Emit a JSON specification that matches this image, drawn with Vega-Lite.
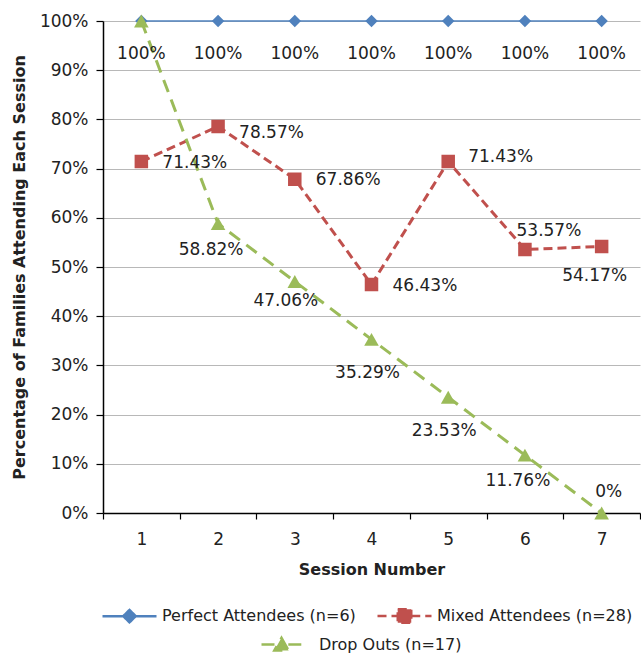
{
  "$schema": "https://vega.github.io/schema/vega-lite/v6.json",
  "width": 537,
  "height": 492,
  "autosize": {"type": "none"},
  "padding": {"left": 103, "top": 21, "right": 1, "bottom": 140},
  "config": {
    "font": "DejaVu Sans",
    "view": {"stroke": null},
    "axis": {"labelColor": "#222222", "titleColor": "#222222", "domainColor": "#000000", "tickColor": "#000000", "domainWidth": 1.5, "tickWidth": 1.2}
  },
  "data": {
    "values": [
      {"series": "Perfect Attendees (n=6)", "session": 1, "value": 1},
      {"series": "Perfect Attendees (n=6)", "session": 2, "value": 1},
      {"series": "Perfect Attendees (n=6)", "session": 3, "value": 1},
      {"series": "Perfect Attendees (n=6)", "session": 4, "value": 1},
      {"series": "Perfect Attendees (n=6)", "session": 5, "value": 1},
      {"series": "Perfect Attendees (n=6)", "session": 6, "value": 1},
      {"series": "Perfect Attendees (n=6)", "session": 7, "value": 1},
      {"series": "Mixed Attendees (n=28)", "session": 1, "value": 0.7143},
      {"series": "Mixed Attendees (n=28)", "session": 2, "value": 0.7857},
      {"series": "Mixed Attendees (n=28)", "session": 3, "value": 0.6786},
      {"series": "Mixed Attendees (n=28)", "session": 4, "value": 0.4643},
      {"series": "Mixed Attendees (n=28)", "session": 5, "value": 0.7143},
      {"series": "Mixed Attendees (n=28)", "session": 6, "value": 0.5357},
      {"series": "Mixed Attendees (n=28)", "session": 7, "value": 0.5417},
      {"series": "Drop Outs (n=17)", "session": 1, "value": 1},
      {"series": "Drop Outs (n=17)", "session": 2, "value": 0.5882},
      {"series": "Drop Outs (n=17)", "session": 3, "value": 0.4706},
      {"series": "Drop Outs (n=17)", "session": 4, "value": 0.3529},
      {"series": "Drop Outs (n=17)", "session": 5, "value": 0.2353},
      {"series": "Drop Outs (n=17)", "session": 6, "value": 0.1176},
      {"series": "Drop Outs (n=17)", "session": 7, "value": 0}
    ]
  },
  "encoding": {
    "x": {
      "field": "session", "type": "ordinal",
      "scale": {"type": "band", "paddingInner": 0, "paddingOuter": 0},
      "title": "Session Number",
      "axis": {"labelAngle": 0, "tickBand": "extent", "tickSize": 6, "grid": false, "labelFontSize": 17, "labelPadding": 12, "titleFontSize": 16, "titleFontWeight": "bold", "titlePadding": 14}
    },
    "y": {
      "field": "value", "type": "quantitative",
      "scale": {"domain": [0, 1], "nice": false},
      "title": "Percentage of Families Attending Each Session",
      "axis": {"format": ".0%", "values": [0, 0.1, 0.2, 0.3, 0.4, 0.5, 0.6, 0.7, 0.8, 0.9, 1], "grid": true, "gridColor": "#b8b8b8", "gridWidth": 1, "tickSize": 7, "labelFontSize": 17, "labelPadding": 8, "titleFontSize": 16, "titleFontWeight": "bold", "titlePadding": 12}
    }
  },
  "layer": [
    {
      "mark": {"type": "line"},
      "encoding": {
        "color": {
          "field": "series", "type": "nominal",
          "scale": {"domain": ["Perfect Attendees (n=6)", "Mixed Attendees (n=28)", "Drop Outs (n=17)"], "range": ["#4f81bd", "#c0504d", "#9bbb59"]},
          "legend": {"values": ["Perfect Attendees (n=6)", "Mixed Attendees (n=28)"], "orient": "none", "legendX": -2, "legendY": 566, "direction": "horizontal", "title": null, "padding": 0, "symbolSize": 2916, "symbolStrokeWidth": 2.5, "labelFontSize": 16, "labelOffset": 4, "labelLimit": 0, "columnPadding": 16, "labelColor": "#222222"}
        },
        "strokeDash": {
          "field": "series", "type": "nominal",
          "scale": {"domain": ["Perfect Attendees (n=6)", "Mixed Attendees (n=28)", "Drop Outs (n=17)"], "range": [[1, 0], [9, 5], [13, 8]]},
          "legend": {"values": ["Perfect Attendees (n=6)", "Mixed Attendees (n=28)"], "orient": "none", "legendX": -2, "legendY": 566, "direction": "horizontal", "title": null, "padding": 0, "symbolSize": 2916, "symbolStrokeWidth": 2.5, "labelFontSize": 16, "labelOffset": 4, "labelLimit": 0, "columnPadding": 16, "labelColor": "#222222"}
        },
        "opacity": {
          "field": "series", "type": "nominal",
          "scale": {"domain": ["Drop Outs (n=17)", "Perfect Attendees (n=6)", "Mixed Attendees (n=28)"], "range": [1, 1, 1]},
          "legend": {
            "values": ["Drop Outs (n=17)"], "orient": "none", "legendX": 157, "legendY": 602, "title": null, "padding": 0,
            "symbolType": "M-1,0H-0.34M0.34,0H1M0,-0.34L0.36,0.3L-0.36,0.3Z",
            "symbolSize": 1600, "symbolStrokeWidth": 2.5, "symbolFillColor": "#9bbb59", "symbolStrokeColor": "#9bbb59", "symbolDash": [13, 8], "symbolOpacity": 1,
            "labelFontSize": 16, "labelOffset": 16, "labelLimit": 0, "labelColor": "#222222"
          }
        },
        "strokeWidth": {"condition": {"test": "datum.series === 'Perfect Attendees (n=6)'", "value": 1.5}, "value": 3}
      }
    },
    {
      "mark": {"type": "point", "filled": true, "size": 2916, "opacity": 1},
      "encoding": {
        "color": {
          "field": "series", "type": "nominal",
          "scale": {"domain": ["Perfect Attendees (n=6)", "Mixed Attendees (n=28)", "Drop Outs (n=17)"], "range": ["#4f81bd", "#c0504d", "#9bbb59"]},
          "legend": {"values": ["Perfect Attendees (n=6)", "Mixed Attendees (n=28)"], "orient": "none", "legendX": -2, "legendY": 566, "direction": "horizontal", "title": null, "padding": 0, "symbolSize": 2916, "symbolStrokeWidth": 2.5, "labelFontSize": 16, "labelOffset": 4, "labelLimit": 0, "columnPadding": 16, "labelColor": "#222222"}
        },
        "shape": {
          "field": "series", "type": "nominal",
          "scale": {"domain": ["Perfect Attendees (n=6)", "Mixed Attendees (n=28)", "Drop Outs (n=17)"], "range": ["M-1,0H-0.2M0.2,0H1M0,-0.23L0.23,0L0,0.23L-0.23,0Z", "M-1,0H-0.25M0.25,0H1M-0.25,-0.25H0.25V0.25H-0.25Z", "M0,-0.24L0.27,0.24L-0.27,0.24Z"]},
          "legend": {"values": ["Perfect Attendees (n=6)", "Mixed Attendees (n=28)"], "orient": "none", "legendX": -2, "legendY": 566, "direction": "horizontal", "title": null, "padding": 0, "symbolSize": 2916, "symbolStrokeWidth": 2.5, "labelFontSize": 16, "labelOffset": 4, "labelLimit": 0, "columnPadding": 16, "labelColor": "#222222"}
        }
      }
    },
    {
      "transform": [{"filter": "datum.series === 'Perfect Attendees (n=6)'"}],
      "mark": {"type": "text", "fontSize": 17, "align": "center", "baseline": "middle", "dy": 33, "color": "#222222"},
      "encoding": {"text": {"field": "value", "type": "quantitative", "format": ".2~%"}}
    },
    {
      "transform": [{"filter": "datum.series === 'Mixed Attendees (n=28)' && indexof([1, 3, 4], datum.session) >= 0"}],
      "mark": {"type": "text", "fontSize": 17, "align": "left", "baseline": "middle", "dx": 21, "dy": 1, "color": "#222222"},
      "encoding": {"text": {"field": "value", "type": "quantitative", "format": ".2~%"}}
    },
    {
      "transform": [{"filter": "datum.series === 'Mixed Attendees (n=28)' && datum.session === 2"}],
      "mark": {"type": "text", "fontSize": 17, "align": "left", "baseline": "middle", "dx": 21, "dy": 7, "color": "#222222"},
      "encoding": {"text": {"field": "value", "type": "quantitative", "format": ".2~%"}}
    },
    {
      "transform": [{"filter": "datum.series === 'Mixed Attendees (n=28)' && datum.session === 5"}],
      "mark": {"type": "text", "fontSize": 17, "align": "left", "baseline": "middle", "dx": 20, "dy": -5, "color": "#222222"},
      "encoding": {"text": {"field": "value", "type": "quantitative", "format": ".2~%"}}
    },
    {
      "transform": [{"filter": "datum.series === 'Mixed Attendees (n=28)' && datum.session === 6"}],
      "mark": {"type": "text", "fontSize": 17, "align": "center", "baseline": "middle", "dx": 24, "dy": -18, "color": "#222222"},
      "encoding": {"text": {"field": "value", "type": "quantitative", "format": ".2~%"}}
    },
    {
      "transform": [{"filter": "datum.series === 'Mixed Attendees (n=28)' && datum.session === 7"}],
      "mark": {"type": "text", "fontSize": 17, "align": "center", "baseline": "middle", "dx": -7, "dy": 30, "color": "#222222"},
      "encoding": {"text": {"field": "value", "type": "quantitative", "format": ".2~%"}}
    },
    {
      "transform": [{"filter": "datum.series === 'Drop Outs (n=17)' && indexof([2, 6], datum.session) >= 0"}],
      "mark": {"type": "text", "fontSize": 17, "align": "center", "baseline": "middle", "dx": -7, "dy": 26, "color": "#222222"},
      "encoding": {"text": {"field": "value", "type": "quantitative", "format": ".2~%"}}
    },
    {
      "transform": [{"filter": "datum.series === 'Drop Outs (n=17)' && datum.session === 3"}],
      "mark": {"type": "text", "fontSize": 17, "align": "center", "baseline": "middle", "dx": -9, "dy": 20, "color": "#222222"},
      "encoding": {"text": {"field": "value", "type": "quantitative", "format": ".2~%"}}
    },
    {
      "transform": [{"filter": "datum.series === 'Drop Outs (n=17)' && indexof([4, 5], datum.session) >= 0"}],
      "mark": {"type": "text", "fontSize": 17, "align": "center", "baseline": "middle", "dx": -4, "dy": 34, "color": "#222222"},
      "encoding": {"text": {"field": "value", "type": "quantitative", "format": ".2~%"}}
    },
    {
      "transform": [{"filter": "datum.series === 'Drop Outs (n=17)' && datum.session === 7"}],
      "mark": {"type": "text", "fontSize": 17, "align": "center", "baseline": "middle", "dx": 7, "dy": -21, "color": "#222222"},
      "encoding": {"text": {"field": "value", "type": "quantitative", "format": ".2~%"}}
    }
  ]
}
